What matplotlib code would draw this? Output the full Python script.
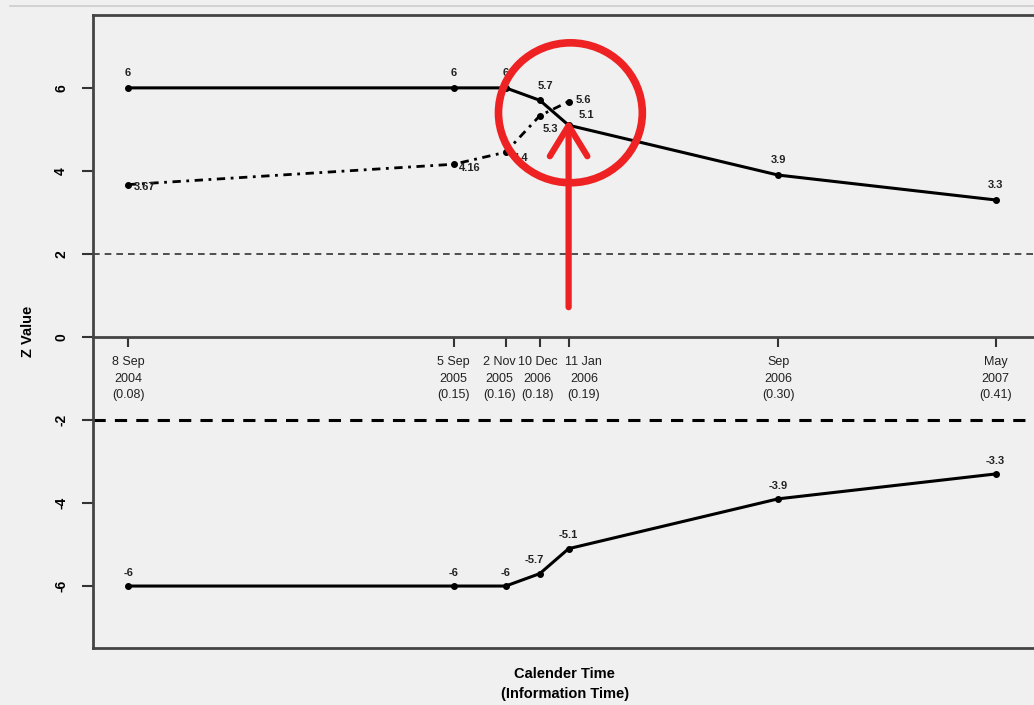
import pandas as pd
import matplotlib
matplotlib.use('Agg')
import matplotlib.pyplot as plt
import matplotlib.dates as mdates
from matplotlib.patches import Ellipse
from matplotlib.lines import Line2D

plt.rcParams['font.family'] = ['Liberation Sans', 'DejaVu Sans']

# --- data ---
dates = pd.to_datetime(['2004-09-08', '2005-09-05', '2005-11-02', '2005-12-10',
                        '2006-01-11', '2006-09-01', '2007-05-01'])
tick_labels = ['8 Sep\n2004\n(0.08)', '5 Sep\n2005\n(0.15)', '2 Nov\n2005\n(0.16)',
               '10 Dec\n2006\n(0.18)', '11 Jan\n2006\n(0.19)', 'Sep\n2006\n(0.30)',
               'May\n2007\n(0.41)']
upper_bound = [6, 6, 6, 5.7, 5.1, 3.9, 3.3]
lower_bound = [-6, -6, -6, -5.7, -5.1, -3.9, -3.3]
upper_text = ['6', '6', '6', '5.7', '5.1', '3.9', '3.3']
lower_text = ['-6', '-6', '-6', '-5.7', '-5.1', '-3.9', '-3.3']
z_dates = dates[:5]
z_values = [3.67, 4.16, 4.45, 5.33, 5.67]
z_text = ['3.67', '4.16', '4.4', '5.3', '5.6']
y_ticks = [-6, -4, -2, 0, 2, 4, 6]

x = mdates.date2num(dates)
xz = mdates.date2num(z_dates)

bg = '#f0f0f0'
fig = plt.figure(figsize=(10.34, 7.05), dpi=100, facecolor=bg)
ax = fig.add_axes([0.090, 0.081, 0.912, 0.898], facecolor=bg)

# boundaries and cumulative z
ax.plot(x, upper_bound, color='black', lw=2.2, marker='o', ms=4, zorder=3)
ax.plot(x, lower_bound, color='black', lw=2.2, marker='o', ms=4, zorder=3)
ax.plot(xz, z_values, color='black', lw=2, dashes=(3, 2, 1, 2), marker='o', ms=4, zorder=3)

# conventional significance lines
ax.axhline(2, color='#333333', lw=1.2, ls=(0, (4, 3)))
ax.axhline(-2, color='black', lw=2.2, ls=(0, (4, 3)))

# point labels
lab = dict(fontsize=8, color='#222222', fontweight='bold')
up_off = [(0, 7), (0, 7), (0, 7), (4, 7), (13, 4), (0, 7), (0, 7)]
for xi, yi, t, off in zip(x, upper_bound, upper_text, up_off):
    ax.annotate(t, (xi, yi), xytext=off, textcoords='offset points',
                ha='center', va='bottom', **lab)
lo_off = [(0, 6), (0, 6), (0, 6), (-4, 6), (0, 6), (0, 6), (0, 6)]
for xi, yi, t, off in zip(x, lower_bound, lower_text, lo_off):
    ax.annotate(t, (xi, yi), xytext=off, textcoords='offset points',
                ha='center', va='bottom', **lab)
z_off = [(4, -2), (4, -3), (5, -4), (2, -6), (5, 1)]
z_va = ['center', 'center', 'center', 'top', 'center']
for xi, yi, t, off, va in zip(xz, z_values, z_text, z_off, z_va):
    ax.annotate(t, (xi, yi), xytext=off, textcoords='offset points',
                ha='left', va=va, **lab)

# axes and ticks
d0 = mdates.date2num(pd.Timestamp('2004-09-08'))
ax.set_xlim(d0 - 39, d0 + 1010)
ax.set_ylim(-7.49, 7.76)
ax.set_xticks(x)
ax.set_xticklabels([])
ax.set_yticks(y_ticks)
ax.set_yticklabels([str(v) for v in y_ticks], fontsize=10, fontweight='bold',
                   rotation=90, va='center')
ax.tick_params(axis='y', length=8, width=1.5, color='#333333', pad=10)
ax.tick_params(axis='x', direction='out', length=7, width=1.5, color='#333333')

# tick labels drawn by hand so the crowded ones can be nudged like the original
shifts = [0, 0, -4.5, -1.5, 11, 0, 0]
for xi, t, dx in zip(x, tick_labels, shifts):
    ax.annotate(t, (xi, 0), xytext=(dx, -14), textcoords='offset points',
                ha='center', va='top', fontsize=9, color='#222222',
                linespacing=1.5, annotation_clip=False)

ax.spines['bottom'].set_position(('data', 0))
for s in ['left', 'top', 'bottom']:
    ax.spines[s].set_color('#444444')
    ax.spines[s].set_linewidth(2)
ax.spines['right'].set_visible(False)
ax.add_line(Line2D([0, 1], [0, 0], transform=ax.transAxes, color='#444444', lw=2, clip_on=False))
fig.add_artist(Line2D([0.01, 1], [0.991, 0.991], color='#cccccc', lw=1.2))

ax.set_ylabel('Z Value', fontsize=10.5, fontweight='bold', labelpad=14)
fig.text(0.546, 0.038, 'Calender Time', ha='center', fontsize=10.5, fontweight='bold')
fig.text(0.546, 0.010, '(Information Time)', ha='center', fontsize=10.5, fontweight='bold')

# red highlight
xj = mdates.date2num(pd.Timestamp('2006-01-13'))
ax.add_patch(Ellipse((xj, 5.4), 160, 3.37, fill=False, ec='#ee2222', lw=5.5, zorder=5))
ax.annotate('', xy=(xj - 2, 5.3), xytext=(xj - 2, 0.65),
            arrowprops=dict(arrowstyle='->,head_length=2.2,head_width=1.35',
                            lw=4.5, color='#ee2222'), zorder=5)

fig.savefig('out.png', dpi=100, facecolor=bg)
